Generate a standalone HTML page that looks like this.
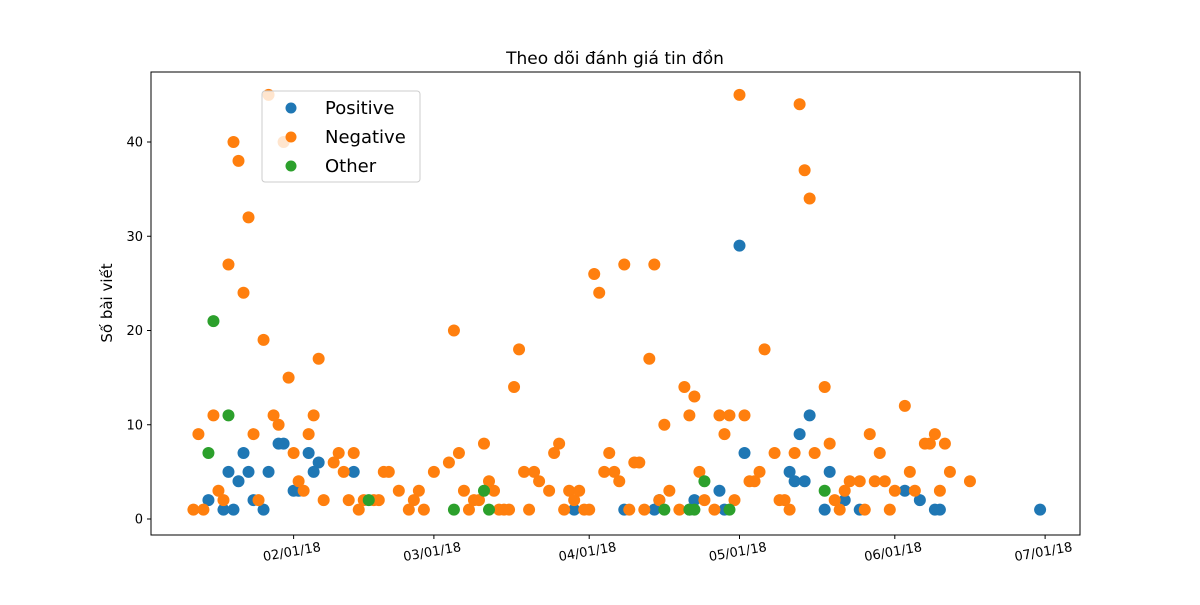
<!DOCTYPE html>
<html><head><meta charset="utf-8"><style>
body{margin:0;background:#fff;}
svg{font-family:"DejaVu Sans","Liberation Sans",sans-serif;}
</style></head><body>
<svg id="chart" width="1200" height="600">
<rect width="1200" height="600" fill="#fff"/>
<text x="615" y="64" text-anchor="middle" font-size="17">Theo dõi đánh giá tin đồn</text>
<text transform="translate(112,303) rotate(-90)" text-anchor="middle" font-size="15">Số bài viết</text>
<g id="marks"></g>
<rect x="151" y="72" width="929" height="463" fill="none" stroke="#000" stroke-width="1"/>
<g id="axes"></g>
<g>
<rect x="262" y="91" width="158" height="91" rx="3" fill="#fff" fill-opacity="0.8" stroke="#ccc"/>
<circle cx="291" cy="108" r="5.5" fill="#1f77b4"/>
<text x="325" y="114" font-size="18">Positive</text>
<circle cx="291" cy="137" r="5.5" fill="#ff7f0e"/>
<text x="325" y="143" font-size="18">Negative</text>
<circle cx="291" cy="166" r="5.5" fill="#2ca02c"/>
<text x="325" y="172" font-size="18">Other</text>
</g>
</svg>
<script>
// days since 2018-01-01
const negDays=[11,12,13,15,16,17,18,19,20,21,22,23,24,25,26,27,28,29,30,31,32,33,34,35,36,37,39,40,41,42,43,44,45,47,48,49,50,52,54,55,56,57,59,62,63,64,65,66,67,68,69,70,71,72,73,74,75,76,77,78,79,80,82,83,84,85,86,87,88,89,90,91,92,93,94,95,96,97,98,99,100,101,102,103,104,105,106,108,109,110,111,112,113,115,116,117,118,119,120,121,122,123,124,125,127,128,129,130,131,132,133,134,135,137,138,139,140,141,142,144,145,146,147,148,149,150,151,153,154,155,157,158,159,160,161,162,166];
const negVals=[1,9,1,11,3,2,27,40,38,24,32,9,2,19,45,11,10,40,15,7,4,3,9,11,17,2,6,7,5,2,7,1,2,2,2,5,5,3,1,2,3,1,5,6,20,7,3,1,2,2,8,4,3,1,1,1,14,18,5,1,5,4,3,7,8,1,3,2,3,1,1,26,24,5,7,5,4,27,1,6,6,1,17,27,2,10,3,1,14,11,13,5,2,1,11,9,11,2,45,11,4,4,5,18,7,2,2,1,7,44,37,34,7,14,8,2,1,3,4,4,1,9,4,7,4,1,3,12,5,3,8,8,9,3,8,5,4];
const posDays=[14,17,18,19,20,21,22,23,25,26,28,29,31,32,34,35,36,43,87,97,103,104,110,111,116,117,120,121,130,131,132,133,134,137,138,141,144,153,156,159,160,180];
const posVals=[2,1,5,1,4,7,5,2,1,5,8,8,3,3,7,5,6,5,1,1,1,2,1,2,3,1,29,7,5,4,9,4,11,1,5,2,1,3,2,1,1,1];
const othDays=[14,15,18,46,63,69,70,105,110,111,113,118,137];
const othVals=[7,21,11,2,1,3,1,1,1,1,4,1,3];
const yTicks=[0,10,20,30,40];
const xTickDays=[31,59,90,120,151,181];
const xTickLabels=["02/01/18","03/01/18","04/01/18","05/01/18","06/01/18","07/01/18"];
const NS="http://www.w3.org/2000/svg";
const X=d=>138.3+d*5.01;
const Y=v=>519-v*9.425;
const marks=document.getElementById('marks'),axes=document.getElementById('axes');
function series(days,vals,color,name){
 days.forEach((d,i)=>{
  const c=document.createElementNS(NS,'circle');
  c.setAttribute('cx',X(d));c.setAttribute('cy',Y(vals[i]));c.setAttribute('r',6);c.setAttribute('fill',color);
  
  
  marks.appendChild(c);
 });
}
series(posDays,posVals,'#1f77b4','point-positive');
series(negDays,negVals,'#ff7f0e','point-negative');
series(othDays,othVals,'#2ca02c','point-other');
yTicks.forEach(t=>{
 const l=document.createElementNS(NS,'line');
 l.setAttribute('x1',151);l.setAttribute('x2',147);l.setAttribute('y1',Y(t));l.setAttribute('y2',Y(t));l.setAttribute('stroke','#000');
 
 
 axes.appendChild(l);
 const tx=document.createElementNS(NS,'text');
 tx.setAttribute('x',143);tx.setAttribute('y',Y(t)+4.5);tx.setAttribute('text-anchor','end');tx.setAttribute('font-size','13');
 tx.textContent=t;
 
 
 axes.appendChild(tx);
});
xTickDays.forEach((d,i)=>{
 const x=X(d);
 const l=document.createElementNS(NS,'line');
 l.setAttribute('x1',x);l.setAttribute('x2',x);l.setAttribute('y1',535);l.setAttribute('y2',539);l.setAttribute('stroke','#000');
 
 
 axes.appendChild(l);
 const tx=document.createElementNS(NS,'text');
 tx.setAttribute('transform','translate('+(x-1)+',556) rotate(-10)');tx.setAttribute('text-anchor','middle');tx.setAttribute('font-size','13');
 tx.textContent=xTickLabels[i];
 
 
 axes.appendChild(tx);
});
</script>
</body></html>
